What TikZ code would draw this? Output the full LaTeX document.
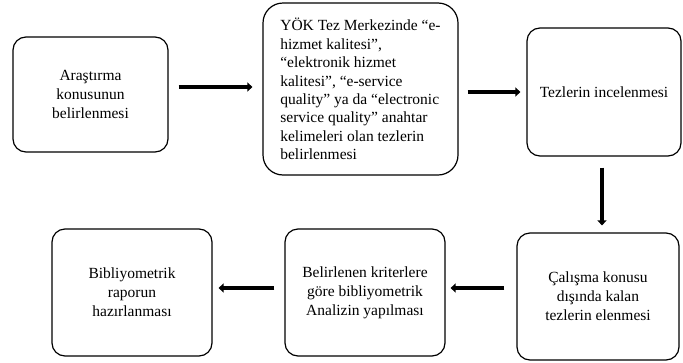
\documentclass[tikz,border=0pt]{standalone}
\usepackage{fontspec}
\setmainfont{Liberation Serif}
\usetikzlibrary{arrows.meta,calc}
\begin{document}
\begin{tikzpicture}[x=1pt,y=-1pt,
  box/.style={draw,line width=1.2pt,rounded corners=13pt,inner sep=0pt,
    align=center,font=\fontsize{15.5}{19}\selectfont},
  arr/.style={line width=3.6pt,-{Triangle[length=5pt,width=9pt]}}]
\useasboundingbox (0,0) rectangle (683,362);
\node[box,minimum width=155pt,minimum height=115pt] (b1) at (90.5,94.5)
  {Araştırma\\konusunun\\belirlenmesi};
\node[box,rounded corners=20pt,align=left,minimum width=195pt,minimum height=172pt,
  font=\fontsize{15.5}{18.4}\selectfont] (b2) at (360.5,89)
  {YÖK Tez Merkezinde “e-\\hizmet kalitesi”,\\“elektronik hizmet\\kalitesi”, “e-service\\quality” ya da “electronic\\service quality” anahtar\\kelimeleri olan tezlerin\\belirlenmesi};
\node[box,minimum width=154pt,minimum height=128pt] (b3) at (604,92)
  {Tezlerin incelenmesi};
\node[box,minimum width=162pt,minimum height=127pt] (b4) at (598,296.5)
  {Çalışma konusu\\dışında kalan\\tezlerin elenmesi};
\node[box,minimum width=160pt,minimum height=127pt] (b5) at (365,292.5)
  {Belirlenen kriterlere\\göre bibliyometrik\\Analizin yapılması};
\node[box,minimum width=160pt,minimum height=127pt] (b6) at (132,292.5)
  {Bibliyometrik\\raporun\\hazırlanması};
\draw[arr,shorten <=10pt,shorten >=10pt] ([yshift=7.5pt]b1.east) -- ([yshift=7.5pt]b1.east -| b2.west);
\draw[arr,shorten <=9pt,shorten >=6pt] (b2.east |- b3.west) -- (b3.west);
\draw[arr,shorten <=11pt,shorten >=7pt] ([xshift=-2pt]b3.south) -- ([xshift=-2pt]b3.south |- b4.north);
\draw[arr,shorten <=12pt,shorten >=5pt] ([yshift=4.5pt]b5.east -| b4.west) -- ([yshift=4.5pt]b5.east);
\draw[arr,shorten <=10pt,shorten >=6pt] ([yshift=4.5pt]b5.west) -- ([yshift=4.5pt]b5.west -| b6.east);
\end{tikzpicture}
\end{document}
